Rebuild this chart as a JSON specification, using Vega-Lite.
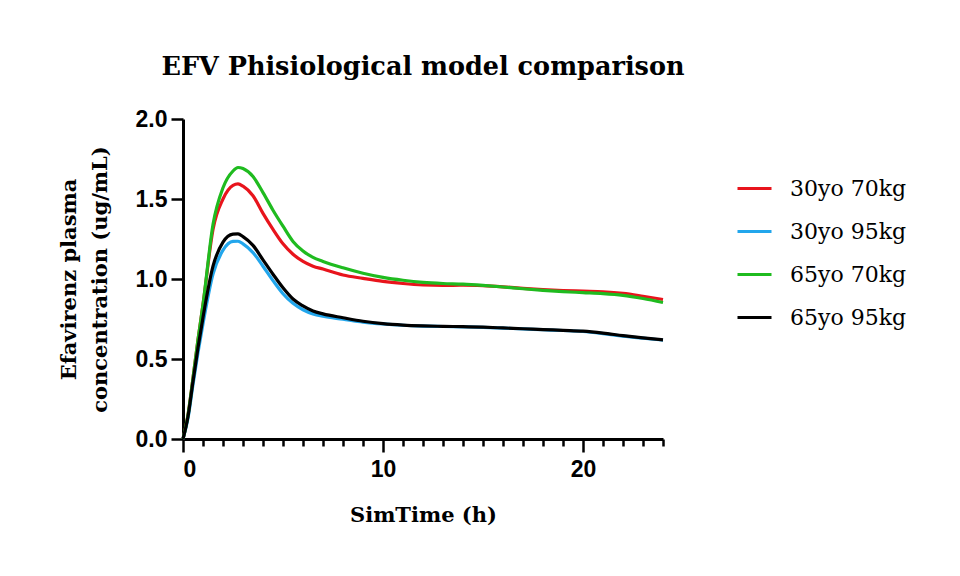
{
  "$schema": "https://vega.github.io/schema/vega-lite/v6.json",
  "autosize": "none",
  "padding": {"left": 183, "top": 119, "right": 297, "bottom": 137},
  "width": 480,
  "height": 320,
  "background": "white",
  "title": {
    "text": "EFV Phisiological model comparison",
    "font": "DejaVu Serif",
    "fontSize": 25.5,
    "fontWeight": "bold",
    "color": "#000000",
    "anchor": "middle",
    "offset": 28
  },
  "config": {
    "view": {"stroke": null},
    "axis": {
      "grid": false,
      "domainColor": "#000000",
      "domainWidth": 3,
      "tickColor": "#000000",
      "tickWidth": 2.5,
      "labelFont": "Liberation Sans",
      "labelFontWeight": "bold",
      "labelFontSize": 23,
      "labelColor": "#000000",
      "titleFont": "DejaVu Serif",
      "titleFontWeight": "bold",
      "titleFontSize": 21,
      "titleColor": "#000000"
    }
  },
  "data": {
    "values": [
      {"t": 0, "c": 0, "s": "30yo 70kg"},
      {"t": 0.25, "c": 0.15, "s": "30yo 70kg"},
      {"t": 0.5, "c": 0.38, "s": "30yo 70kg"},
      {"t": 0.75, "c": 0.62, "s": "30yo 70kg"},
      {"t": 1, "c": 0.84, "s": "30yo 70kg"},
      {"t": 1.5, "c": 1.31, "s": "30yo 70kg"},
      {"t": 2, "c": 1.5, "s": "30yo 70kg"},
      {"t": 2.5, "c": 1.585, "s": "30yo 70kg"},
      {"t": 2.75, "c": 1.594, "s": "30yo 70kg"},
      {"t": 3, "c": 1.58, "s": "30yo 70kg"},
      {"t": 3.5, "c": 1.52, "s": "30yo 70kg"},
      {"t": 4, "c": 1.41, "s": "30yo 70kg"},
      {"t": 4.5, "c": 1.31, "s": "30yo 70kg"},
      {"t": 5, "c": 1.22, "s": "30yo 70kg"},
      {"t": 5.5, "c": 1.155, "s": "30yo 70kg"},
      {"t": 6, "c": 1.11, "s": "30yo 70kg"},
      {"t": 6.5, "c": 1.08, "s": "30yo 70kg"},
      {"t": 7, "c": 1.062, "s": "30yo 70kg"},
      {"t": 8, "c": 1.025, "s": "30yo 70kg"},
      {"t": 9, "c": 1.004, "s": "30yo 70kg"},
      {"t": 10, "c": 0.985, "s": "30yo 70kg"},
      {"t": 11, "c": 0.972, "s": "30yo 70kg"},
      {"t": 12, "c": 0.963, "s": "30yo 70kg"},
      {"t": 13, "c": 0.96, "s": "30yo 70kg"},
      {"t": 14, "c": 0.961, "s": "30yo 70kg"},
      {"t": 15, "c": 0.958, "s": "30yo 70kg"},
      {"t": 16, "c": 0.951, "s": "30yo 70kg"},
      {"t": 17, "c": 0.942, "s": "30yo 70kg"},
      {"t": 18, "c": 0.934, "s": "30yo 70kg"},
      {"t": 19, "c": 0.928, "s": "30yo 70kg"},
      {"t": 20, "c": 0.924, "s": "30yo 70kg"},
      {"t": 21, "c": 0.92, "s": "30yo 70kg"},
      {"t": 22, "c": 0.91, "s": "30yo 70kg"},
      {"t": 23, "c": 0.892, "s": "30yo 70kg"},
      {"t": 24, "c": 0.872, "s": "30yo 70kg"},

      {"t": 0, "c": 0, "s": "30yo 95kg"},
      {"t": 0.25, "c": 0.13, "s": "30yo 95kg"},
      {"t": 0.5, "c": 0.34, "s": "30yo 95kg"},
      {"t": 0.75, "c": 0.54, "s": "30yo 95kg"},
      {"t": 1, "c": 0.72, "s": "30yo 95kg"},
      {"t": 1.5, "c": 1.03, "s": "30yo 95kg"},
      {"t": 2, "c": 1.18, "s": "30yo 95kg"},
      {"t": 2.5, "c": 1.235, "s": "30yo 95kg"},
      {"t": 2.75, "c": 1.236, "s": "30yo 95kg"},
      {"t": 3, "c": 1.22, "s": "30yo 95kg"},
      {"t": 3.5, "c": 1.165, "s": "30yo 95kg"},
      {"t": 4, "c": 1.08, "s": "30yo 95kg"},
      {"t": 4.5, "c": 0.99, "s": "30yo 95kg"},
      {"t": 5, "c": 0.908, "s": "30yo 95kg"},
      {"t": 5.5, "c": 0.848, "s": "30yo 95kg"},
      {"t": 6, "c": 0.808, "s": "30yo 95kg"},
      {"t": 6.5, "c": 0.782, "s": "30yo 95kg"},
      {"t": 7, "c": 0.767, "s": "30yo 95kg"},
      {"t": 8, "c": 0.749, "s": "30yo 95kg"},
      {"t": 9, "c": 0.731, "s": "30yo 95kg"},
      {"t": 10, "c": 0.719, "s": "30yo 95kg"},
      {"t": 11, "c": 0.711, "s": "30yo 95kg"},
      {"t": 12, "c": 0.706, "s": "30yo 95kg"},
      {"t": 13, "c": 0.703, "s": "30yo 95kg"},
      {"t": 14, "c": 0.701, "s": "30yo 95kg"},
      {"t": 15, "c": 0.698, "s": "30yo 95kg"},
      {"t": 16, "c": 0.693, "s": "30yo 95kg"},
      {"t": 17, "c": 0.688, "s": "30yo 95kg"},
      {"t": 18, "c": 0.683, "s": "30yo 95kg"},
      {"t": 19, "c": 0.678, "s": "30yo 95kg"},
      {"t": 20, "c": 0.672, "s": "30yo 95kg"},
      {"t": 21, "c": 0.659, "s": "30yo 95kg"},
      {"t": 22, "c": 0.643, "s": "30yo 95kg"},
      {"t": 23, "c": 0.63, "s": "30yo 95kg"},
      {"t": 24, "c": 0.618, "s": "30yo 95kg"},

      {"t": 0, "c": 0, "s": "65yo 70kg"},
      {"t": 0.25, "c": 0.15, "s": "65yo 70kg"},
      {"t": 0.5, "c": 0.38, "s": "65yo 70kg"},
      {"t": 0.75, "c": 0.62, "s": "65yo 70kg"},
      {"t": 1, "c": 0.84, "s": "65yo 70kg"},
      {"t": 1.5, "c": 1.34, "s": "65yo 70kg"},
      {"t": 2, "c": 1.57, "s": "65yo 70kg"},
      {"t": 2.5, "c": 1.675, "s": "65yo 70kg"},
      {"t": 2.75, "c": 1.697, "s": "65yo 70kg"},
      {"t": 3, "c": 1.69, "s": "65yo 70kg"},
      {"t": 3.5, "c": 1.64, "s": "65yo 70kg"},
      {"t": 4, "c": 1.54, "s": "65yo 70kg"},
      {"t": 4.5, "c": 1.43, "s": "65yo 70kg"},
      {"t": 5, "c": 1.33, "s": "65yo 70kg"},
      {"t": 5.5, "c": 1.235, "s": "65yo 70kg"},
      {"t": 6, "c": 1.175, "s": "65yo 70kg"},
      {"t": 6.5, "c": 1.135, "s": "65yo 70kg"},
      {"t": 7, "c": 1.11, "s": "65yo 70kg"},
      {"t": 8, "c": 1.07, "s": "65yo 70kg"},
      {"t": 9, "c": 1.036, "s": "65yo 70kg"},
      {"t": 10, "c": 1.01, "s": "65yo 70kg"},
      {"t": 11, "c": 0.992, "s": "65yo 70kg"},
      {"t": 12, "c": 0.979, "s": "65yo 70kg"},
      {"t": 13, "c": 0.972, "s": "65yo 70kg"},
      {"t": 14, "c": 0.968, "s": "65yo 70kg"},
      {"t": 15, "c": 0.96, "s": "65yo 70kg"},
      {"t": 16, "c": 0.95, "s": "65yo 70kg"},
      {"t": 17, "c": 0.939, "s": "65yo 70kg"},
      {"t": 18, "c": 0.929, "s": "65yo 70kg"},
      {"t": 19, "c": 0.921, "s": "65yo 70kg"},
      {"t": 20, "c": 0.915, "s": "65yo 70kg"},
      {"t": 21, "c": 0.909, "s": "65yo 70kg"},
      {"t": 22, "c": 0.898, "s": "65yo 70kg"},
      {"t": 23, "c": 0.878, "s": "65yo 70kg"},
      {"t": 24, "c": 0.853, "s": "65yo 70kg"},

      {"t": 0, "c": 0, "s": "65yo 95kg"},
      {"t": 0.25, "c": 0.14, "s": "65yo 95kg"},
      {"t": 0.5, "c": 0.36, "s": "65yo 95kg"},
      {"t": 0.75, "c": 0.57, "s": "65yo 95kg"},
      {"t": 1, "c": 0.76, "s": "65yo 95kg"},
      {"t": 1.5, "c": 1.08, "s": "65yo 95kg"},
      {"t": 2, "c": 1.23, "s": "65yo 95kg"},
      {"t": 2.5, "c": 1.28, "s": "65yo 95kg"},
      {"t": 2.75, "c": 1.282, "s": "65yo 95kg"},
      {"t": 3, "c": 1.265, "s": "65yo 95kg"},
      {"t": 3.5, "c": 1.21, "s": "65yo 95kg"},
      {"t": 4, "c": 1.12, "s": "65yo 95kg"},
      {"t": 4.5, "c": 1.03, "s": "65yo 95kg"},
      {"t": 5, "c": 0.945, "s": "65yo 95kg"},
      {"t": 5.5, "c": 0.875, "s": "65yo 95kg"},
      {"t": 6, "c": 0.832, "s": "65yo 95kg"},
      {"t": 6.5, "c": 0.8, "s": "65yo 95kg"},
      {"t": 7, "c": 0.782, "s": "65yo 95kg"},
      {"t": 8, "c": 0.758, "s": "65yo 95kg"},
      {"t": 9, "c": 0.736, "s": "65yo 95kg"},
      {"t": 10, "c": 0.721, "s": "65yo 95kg"},
      {"t": 11, "c": 0.712, "s": "65yo 95kg"},
      {"t": 12, "c": 0.707, "s": "65yo 95kg"},
      {"t": 13, "c": 0.704, "s": "65yo 95kg"},
      {"t": 14, "c": 0.702, "s": "65yo 95kg"},
      {"t": 15, "c": 0.699, "s": "65yo 95kg"},
      {"t": 16, "c": 0.694, "s": "65yo 95kg"},
      {"t": 17, "c": 0.689, "s": "65yo 95kg"},
      {"t": 18, "c": 0.684, "s": "65yo 95kg"},
      {"t": 19, "c": 0.679, "s": "65yo 95kg"},
      {"t": 20, "c": 0.674, "s": "65yo 95kg"},
      {"t": 21, "c": 0.662, "s": "65yo 95kg"},
      {"t": 22, "c": 0.646, "s": "65yo 95kg"},
      {"t": 23, "c": 0.632, "s": "65yo 95kg"},
      {"t": 24, "c": 0.62, "s": "65yo 95kg"}
    ]
  },
  "mark": {"type": "line", "strokeWidth": 3.2, "interpolate": "monotone", "clip": false},
  "encoding": {
    "x": {
      "field": "t",
      "type": "quantitative",
      "scale": {"domain": [0, 24], "nice": false, "zero": true},
      "axis": {
        "title": "SimTime (h)",
        "values": [0, 1, 2, 3, 4, 5, 6, 7, 8, 9, 10, 11, 12, 13, 14, 15, 16, 17, 18, 19, 20, 21, 22, 23, 24],
        "labelExpr": "datum.value % 10 === 0 ? datum.label : ''",
        "tickSize": {"condition": {"test": "datum.value % 10 !== 0", "value": 7}, "value": 13},
        "labelPadding": 6,
        "titlePadding": 23
      }
    },
    "y": {
      "field": "c",
      "type": "quantitative",
      "scale": {"domain": [0, 2], "nice": false},
      "axis": {
        "title": ["Efavirenz plasma", "concentration (ug/mL)"],
        "values": [0, 0.5, 1, 1.5, 2],
        "format": ".1f",
        "tickSize": 12,
        "labelPadding": 4,
        "titleLineHeight": 31,
        "titleAngle": -90,
        "titleBaseline": "middle",
        "titleAlign": "center",
        "titleX": -114,
        "titleY": 160
      }
    },
    "color": {
      "field": "s",
      "type": "nominal",
      "scale": {
        "domain": ["30yo 70kg", "30yo 95kg", "65yo 70kg", "65yo 95kg"],
        "range": ["#e8141c", "#22a6ec", "#1fbb1f", "#000000"]
      },
      "legend": {
        "title": null,
        "orient": "none",
        "legendX": 553,
        "legendY": 51,
        "symbolType": "stroke",
        "symbolStrokeWidth": 3,
        "symbolSize": 1156,
        "labelFont": "DejaVu Serif",
        "labelFontSize": 22,
        "labelColor": "#000000",
        "labelOffset": 17,
        "rowPadding": 13,
        "labelLimit": 300
      }
    }
  }
}
